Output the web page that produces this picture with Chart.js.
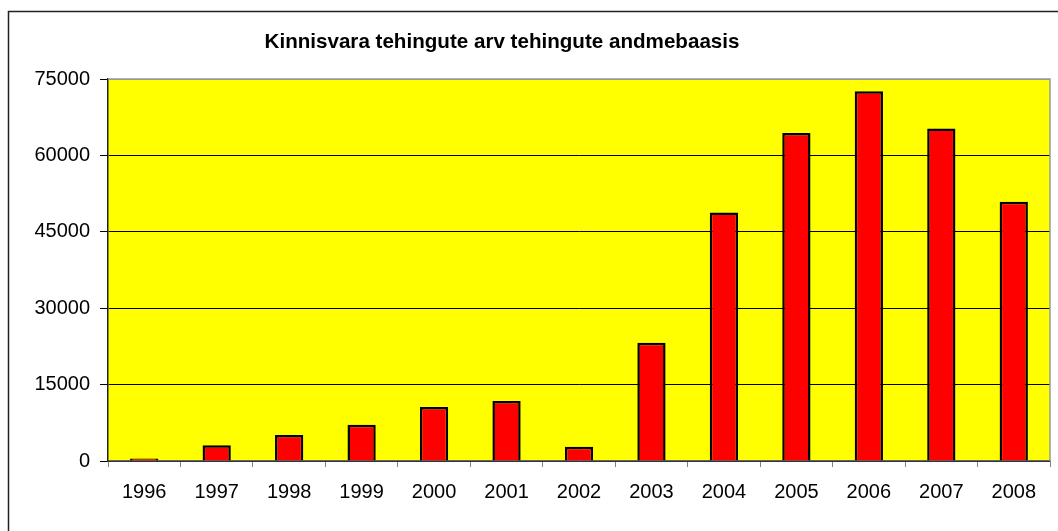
<!DOCTYPE html>
<html>
<head>
<meta charset="utf-8">
<script src="https://cdn.jsdelivr.net/npm/chart.js@4"></script>
<style>
  body { margin: 0; background: #fff; }
  canvas { display: block; }
</style>
</head>
<body>
<canvas id="chart" width="1058" height="531"></canvas>
<script>
// values
const years = ["1996", "1997", "1998", "1999", "2000", "2001", "2002", "2003", "2004", "2005", "2006", "2007", "2008"];
const deals = [500, 3100, 5100, 7100, 10600, 11800, 2800, 23200, 48800, 64400, 72600, 65300, 50900];
const yTicks = [0, 15000, 30000, 45000, 60000, 75000];
const titleText = "Kinnisvara tehingute arv tehingute andmebaasis";

const font = "'Liberation Sans', Arial, sans-serif";

// yellow plot area, grey border top/right, outer frame, title
const framePlugin = {
  id: "frame",
  beforeDraw(chart) {
    const { ctx, chartArea: a } = chart;
    ctx.save();
    ctx.fillStyle = "#ffff00";
    ctx.fillRect(a.left, a.top, a.right - a.left, a.bottom - a.top);
    ctx.restore();
  },
  afterDraw(chart) {
    const { ctx, chartArea: a } = chart;
    ctx.save();
    ctx.strokeStyle = "#999";
    ctx.lineWidth = 1.5;
    ctx.beginPath();
    ctx.moveTo(a.left, a.top);
    ctx.lineTo(a.right, a.top);
    ctx.lineTo(a.right, a.bottom);
    ctx.stroke();

    ctx.strokeStyle = "#222";
    ctx.lineWidth = 1.5;
    ctx.strokeRect(8.5, 11.5, 1200, 700);

    ctx.fillStyle = "#000";
    ctx.font = "bold 20.6px " + font;
    ctx.textAlign = "center";
    ctx.textBaseline = "alphabetic";
    ctx.fillText(titleText, 502, 48);
    ctx.restore();
  }
};

new Chart(document.getElementById("chart"), {
  type: "bar",
  data: {
    labels: years,
    datasets: [{
      data: deals,
      backgroundColor: "#ff0000",
      borderColor: "#000",
      borderWidth: 2.5,
      categoryPercentage: 1,
      barPercentage: 0.39
    }]
  },
  options: {
    responsive: false,
    animation: false,
    layout: { padding: { top: 79, right: 8, left: 0, bottom: 0 } },
    plugins: {
      legend: { display: false },
      tooltip: { enabled: false },
      title: { display: false }
    },
    scales: {
      x: {
        offset: true,
        grid: {
          offset: true,
          drawOnChartArea: false,
          drawTicks: true,
          tickLength: 6,
          color: "#808080"
        },
        border: { color: "#666", width: 1.5 },
        ticks: {
          color: "#000",
          padding: 13,
          maxRotation: 0,
          font: { family: font, size: 20 }
        },
        afterFit(scale) { scale.height = 70; }
      },
      y: {
        min: 0,
        max: 75000,
        afterBuildTicks(scale) {
          scale.ticks = yTicks.map(v => ({ value: v }));
        },
        grid: {
          color: ctx => (ctx.tick && ctx.tick.value === 75000 ? "#999" : "#000"),
          lineWidth: 1,
          tickLength: 8,
          tickColor: "#000"
        },
        border: { color: "#222", width: 1.5 },
        ticks: {
          color: "#000",
          padding: 10,
          font: { family: font, size: 20 },
          callback: v => String(v)
        },
        afterFit(scale) { scale.width = 108; }
      }
    }
  },
  plugins: [framePlugin]
});
</script>
</body>
</html>
